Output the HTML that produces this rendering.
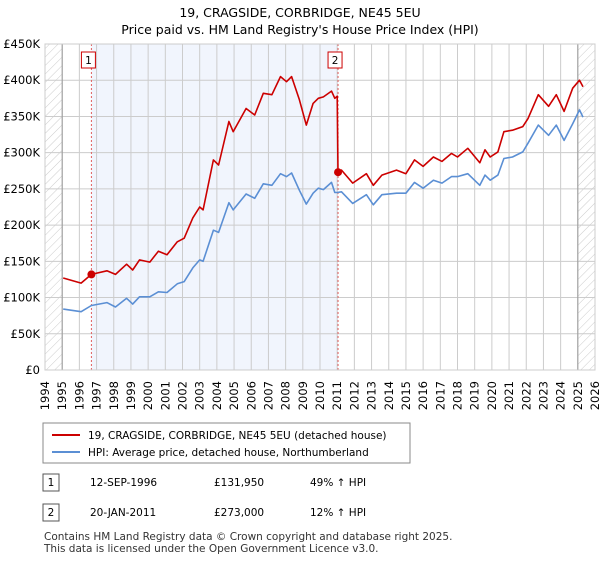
<!DOCTYPE html>
<html><head><meta charset="utf-8"><style>
body{margin:0;background:#fff;font-family:"Liberation Sans","DejaVu Sans",sans-serif;}
svg text{font-family:"DejaVu Sans","Liberation Sans",sans-serif;}
</style></head><body>
<svg width="600" height="560" viewBox="0 0 600 560">
<defs><pattern id="hatch" width="6" height="6" patternUnits="userSpaceOnUse" patternTransform="rotate(45)"><line x1="0" y1="0" x2="0" y2="6" stroke="#ccc" stroke-width="1"/></pattern></defs>
<text x="300" y="17" text-anchor="middle" font-size="12.5">19, CRAGSIDE, CORBRIDGE, NE45 5EU</text>
<text x="300" y="34" text-anchor="middle" font-size="12.5">Price paid vs. HM Land Registry's House Price Index (HPI)</text>
<g id="plot"></g>
<g>
<rect x="43" y="423" width="367" height="40" fill="#fff" stroke="#888"/>
<line x1="52" y1="435" x2="80" y2="435" stroke="#cc0000" stroke-width="2"/>
<text x="88" y="439" font-size="10.5">19, CRAGSIDE, CORBRIDGE, NE45 5EU (detached house)</text>
<line x1="52" y1="452" x2="80" y2="452" stroke="#5b8fd4" stroke-width="2"/>
<text x="88" y="456" font-size="10.5">HPI: Average price, detached house, Northumberland</text>
</g>
<g font-size="10.5">
<rect x="43" y="474" width="16" height="17" fill="#fff" stroke="#555"/><text x="51" y="486" text-anchor="middle">1</text>
<text x="90" y="486">12-SEP-1996</text><text x="214" y="486">£131,950</text><text x="310" y="486">49% ↑ HPI</text>
<rect x="43" y="504" width="16" height="17" fill="#fff" stroke="#555"/><text x="51" y="516" text-anchor="middle">2</text>
<text x="90" y="516">20-JAN-2011</text><text x="214" y="516">£273,000</text><text x="310" y="516">12% ↑ HPI</text>
</g>
<text x="44" y="540" font-size="10.5" fill="#333">Contains HM Land Registry data © Crown copyright and database right 2025.</text>
<text x="44" y="552" font-size="10.5" fill="#333">This data is licensed under the Open Government Licence v3.0.</text>
</svg>
<script>
const yTicks=[0,50,100,150,200,250,300,350,400,450];
const yTickLabels=["£0","£50K","£100K","£150K","£200K","£250K","£300K","£350K","£400K","£450K"];
const years=[1994,1995,1996,1997,1998,1999,2000,2001,2002,2003,2004,2005,2006,2007,2008,2009,2010,2011,2012,2013,2014,2015,2016,2017,2018,2019,2020,2021,2022,2023,2024,2025,2026];
const priceT=[1995.06,1996.1,1996.7,1997.6,1998.1,1998.75,1999.1,1999.5,2000.1,2000.6,2001.1,2001.7,2002.1,2002.6,2003.0,2003.2,2003.8,2004.1,2004.7,2004.95,2005.7,2006.2,2006.7,2007.2,2007.7,2008.05,2008.35,2008.8,2009.2,2009.6,2009.9,2010.2,2010.67,2010.86,2011.0,2011.05,2011.25,2011.9,2012.7,2013.1,2013.6,2014.45,2015.0,2015.5,2016.0,2016.6,2017.1,2017.65,2018.0,2018.6,2019.3,2019.6,2019.9,2020.35,2020.7,2021.2,2021.8,2022.1,2022.7,2023.3,2023.75,2024.2,2024.7,2025.1,2025.3];
const priceV=[127,120,132,137,132,146,138,152,149,164,159,177,182,210,225,221,290,283,343,329,361,352,382,380,405,398,405,373,338,368,375,377,385,375,378,273,276,258,271,255,269,276,271,290,281,294,288,299,294,306,286,304,294,301,329,331,336,347,380,364,380,357,389,400,391];
const hpiT=[1995.06,1996.1,1996.7,1997.6,1998.1,1998.75,1999.1,1999.5,2000.1,2000.6,2001.1,2001.7,2002.1,2002.6,2003.0,2003.2,2003.8,2004.1,2004.7,2004.95,2005.7,2006.2,2006.7,2007.2,2007.7,2008.05,2008.35,2008.8,2009.2,2009.6,2009.9,2010.2,2010.67,2010.86,2011.0,2011.25,2011.9,2012.7,2013.1,2013.6,2014.45,2015.0,2015.5,2016.0,2016.6,2017.1,2017.65,2018.0,2018.6,2019.3,2019.6,2019.9,2020.35,2020.7,2021.2,2021.8,2022.1,2022.7,2023.3,2023.75,2024.2,2024.7,2025.1,2025.3];
const hpiV=[84,80.5,89,93,87,99,91,101,101,108,107,119,122,141,152,150,193,190,231,221,243,237,257,255,271,267,272,248,229,244,251,249,259,245,245,246,230,242,228,242,244,244,259,251,262,258,267,267,271,255,269,262,269,292,294,301,313,338,324,338,317,340,359,349];
const saleT=[1996.7,2011.05];
const saleV=[131.95,273];
const saleLabels=["1","2"];

const NS="http://www.w3.org/2000/svg";
const X0=45,X1=595,Y0=370,Y1=44;
const xs=t=>X0+(t-1994)/(2026-1994)*(X1-X0);
const ys=v=>Y0-v/450*(Y0-Y1);
const g=document.getElementById('plot');
function mk(tag,attrs,parent){const e=document.createElementNS(NS,tag);for(const k in attrs)e.setAttribute(k,attrs[k]);(parent||g).appendChild(e);return e;}
let e;
e=mk('rect',{x:X0,y:Y1,width:X1-X0,height:Y0-Y1,fill:'#fff'});


e=mk('rect',{x:xs(saleT[0]),y:Y1,width:xs(saleT[1])-xs(saleT[0]),height:Y0-Y1,fill:'#f1f5fd'});


e=mk('rect',{x:X0,y:Y1,width:xs(1995)-X0,height:Y0-Y1,fill:'url(#hatch)'});


e=mk('rect',{x:xs(2025.0),y:Y1,width:X1-xs(2025.0),height:Y0-Y1,fill:'url(#hatch)'});


years.forEach(y=>{
  const x=xs(y);
  e=mk('line',{x1:x,y1:Y1,x2:x,y2:Y0,stroke:'#ccc','stroke-width':1});
  
  
  e=mk('text',{x:0,y:0,'text-anchor':'end','font-size':11.5,transform:'translate('+(x+4)+','+(Y0+11)+') rotate(-90)'});
  e.textContent=y;
  
  
});
yTicks.forEach((v,i)=>{
  const y=ys(v);
  e=mk('line',{x1:X0,y1:y,x2:X1,y2:y,stroke:'#ccc','stroke-width':1});
  
  
  e=mk('text',{x:X0-5,y:y+4,'text-anchor':'end','font-size':11.5});
  e.textContent=yTickLabels[i];
  
  
});
e=mk('line',{x1:xs(1995),y1:Y1,x2:xs(1995),y2:Y0,stroke:'#999'});


e=mk('line',{x1:xs(2025.0),y1:Y1,x2:xs(2025.0),y2:Y0,stroke:'#999'});


saleT.forEach((t,i)=>{
  e=mk('line',{x1:xs(t),y1:Y1,x2:xs(t),y2:Y0,stroke:'#e06060','stroke-dasharray':'2,2'});
  
  
  e=mk('rect',{x:xs(t)-10,y:52,width:14,height:16,fill:'#fff',stroke:'#cc0000'});
  
  
  e=mk('text',{x:xs(t)-3,y:64,'text-anchor':'middle','font-size':10.5});
  e.textContent=saleLabels[i];
  
  
});
const pts=(T,V)=>T.map((t,i)=>xs(t).toFixed(1)+','+ys(V[i]).toFixed(1)).join(' ');
e=mk('polyline',{points:pts(hpiT,hpiV),fill:'none',stroke:'#5b8fd4','stroke-width':1.6,'stroke-linejoin':'round'});


e=mk('polyline',{points:pts(priceT,priceV),fill:'none',stroke:'#cc0000','stroke-width':1.6,'stroke-linejoin':'round'});


saleT.forEach((t,i)=>{
  e=mk('circle',{cx:xs(t),cy:ys(saleV[i]),r:4,fill:'#cc0000'});
  
  
});
e=mk('rect',{x:X0,y:Y1,width:X1-X0,height:Y0-Y1,fill:'none',stroke:'#ccc'});


</script>
</body></html>
